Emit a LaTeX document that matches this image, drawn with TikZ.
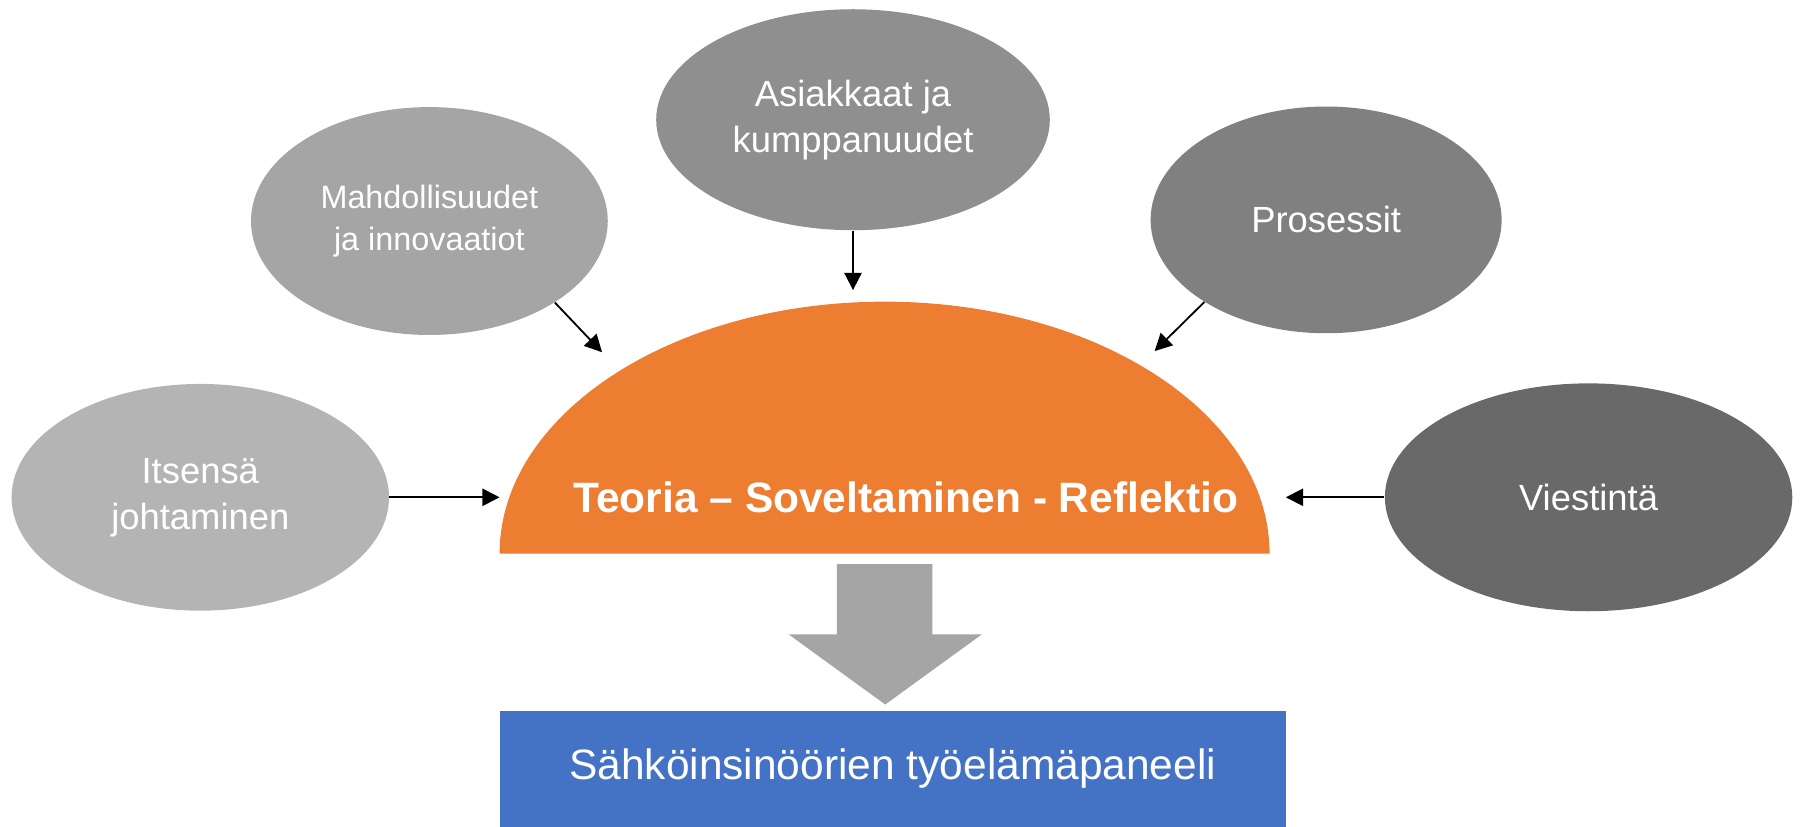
\documentclass[tikz,border=0pt]{standalone}
\usepackage{fontspec}
\setmainfont{Liberation Sans}
\usepackage{tikz}
\usetikzlibrary{arrows.meta,shapes.geometric}
\definecolor{ovalitse}{HTML}{B4B4B4}
\definecolor{ovalmahd}{HTML}{A5A5A5}
\definecolor{ovalasiak}{HTML}{8F8F8F}
\definecolor{ovalpros}{HTML}{808080}
\definecolor{ovalviest}{HTML}{696969}
\definecolor{domeorange}{HTML}{ED7D31}
\definecolor{flowgray}{HTML}{A5A5A5}
\definecolor{panelblue}{HTML}{4472C4}

\begin{document}
\begin{tikzpicture}[x=0.02cm,y=-0.02cm,
  oval/.style={ellipse,inner sep=0pt,text=white,align=center,font=\fontsize{18}{22.8}\selectfont},
  link/.style={line width=0.9pt,-{Triangle[length=0.3cm,width=0.3cm]}}]
  \useasboundingbox (0,0) rectangle (1568,718);
  \fill[domeorange] (434,481) arc[start angle=180,end angle=0,x radius=6.69cm,y radius=4.38cm] -- cycle;
  \fill[flowgray] (727,490) -- (810,490) -- (810,551) -- (853,551) -- (769,612) -- (685,551) -- (727,551) -- cycle;
  \node[oval,fill=ovalitse,minimum width=6.56cm,minimum height=3.94cm] (itse) at (174,432) {Itsensä\\johtaminen};
  \node[oval,fill=ovalmahd,minimum width=6.2cm,minimum height=3.96cm,font=\fontsize{16}{20.4}\selectfont] (mahd) at (373,192) {Mahdollisuudet\\ja innovaatiot};
  \node[oval,fill=ovalasiak,minimum width=6.84cm,minimum height=3.84cm] (asiak) at (741,104) {Asiakkaat ja\\kumppanuudet};
  \node[oval,fill=ovalpros,minimum width=6.1cm,minimum height=3.94cm] (pros) at (1152,191) {Prosessit};
  \node[oval,fill=ovalviest,minimum width=7.08cm,minimum height=3.96cm] (viest) at (1380,432) {Viestintä};
  \node[text=white,font=\bfseries\fontsize{21}{25}\selectfont] (teoria) at (787,432) {Teoria – Soveltaminen - Reflektio};
  \node[fill=panelblue,minimum width=13.66cm,minimum height=2cm,inner sep=0pt,text=white,font=\fontsize{21}{25}\selectfont] (paneeli) at (775.5,668) {Sähköinsinöörien työelämäpaneeli};
  \coordinate (inW) at (434,432);
  \coordinate (inNW) at (523,306);
  \coordinate (inN) at (741,252);
  \coordinate (inNE) at (1003,305);
  \coordinate (inE) at (1117,432);
  \draw[link] (itse.east) -- (inW);
  \draw[link] (mahd.-33) -- (inNW);
  \draw[link] (asiak.south) -- (inN);
  \draw[link] (pros.214) -- (inNE);
  \draw[link] (viest.west) -- (inE);
\end{tikzpicture}
\end{document}
